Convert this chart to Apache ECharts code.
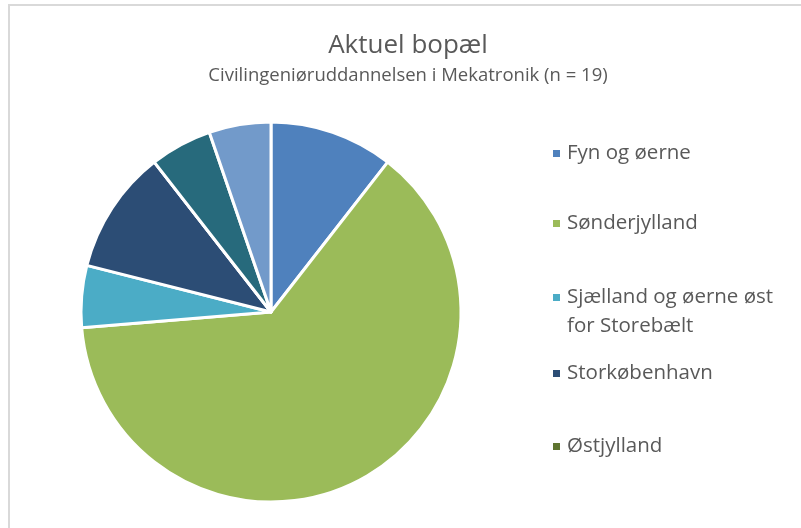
<!DOCTYPE html>
<html>
<head>
<meta charset="utf-8">
<title>Aktuel bopæl</title>
<script src="https://cdn.jsdelivr.net/npm/echarts@6/dist/echarts.min.js"></script>
<style>
    html, body { margin: 0; padding: 0; background: #fff; overflow: hidden; }
    #frame { position: absolute; left: 8px; top: 4px; width: 900px; height: 600px;
             border-left: 2px solid #d9d9d9; border-top: 2px solid #d9d9d9; }
    #chart { position: absolute; left: 0; top: 0; width: 801px; height: 528px; }
</style>
</head>
<body>
<div id="frame"></div>
<div id="chart"></div>
<script type="text/javascript">
// bopæl, antal studerende (n = 19)
var regions = ['Fyn og øerne', 'Sønderjylland', 'Sjælland og øerne øst\nfor Storebælt',
               'Storkøbenhavn', 'Østjylland', 'Vestjylland', 'Nordjylland'];
var counts = [2, 12, 1, 2, 0, 1, 1];
var colors = ['#4f81bd', '#9bbb59', '#4bacc6', '#2c4d75', '#5f7530', '#276a7c', '#729aca'];
var legendShown = regions.slice(0, 5);
var legendTops = [134, 204, 249, 354, 427];

var chart = echarts.init(document.getElementById('chart'));

// one legend per entry, so the spacing can follow the original
var legends = legendShown.map(function (name, i) {
    return {
        orient: 'vertical',
        left: 546,
        top: legendTops[i],
        itemWidth: 9,
        itemHeight: 9,
        itemGap: 0,
        icon: 'rect',
        selectedMode: false,
        // blank first line keeps the marker level with the first text line
        formatter: function (n) { return n.indexOf('\n') >= 0 ? ' \n' + n : n; },
        textStyle: {
            color: '#595959', fontSize: 20.5, fontFamily: 'Open Sans', lineHeight: 29,
            padding: [0, 0, 0, 1]
        },
        data: [name]
    };
});

option = {
    animation: false,
    color: colors,
    title: {
        text: 'Aktuel bopæl',
        subtext: 'Civilingeniøruddannelsen i Mekatronik (n = 19)',
        left: 403,
        top: 28,
        textAlign: 'center',
        itemGap: 7,
        textStyle: { color: '#595959', fontSize: 26, fontWeight: 'normal', fontFamily: 'Open Sans' },
        subtextStyle: { color: '#595959', fontSize: 18.5, fontFamily: 'Open Sans' }
    },
    legend: legends,
    series: [
        {
            type: 'pie',
            center: [271, 312],
            radius: 190,
            startAngle: 90,
            clockwise: true,
            label: { show: false },
            labelLine: { show: false },
            emphasis: { disabled: true },
            itemStyle: { borderColor: '#fff', borderWidth: 3 },
            data: regions.map(function (name, i) {
                return { name: name, value: counts[i] };
            })
        }
    ]
};

chart.setOption(option);
</script>
</body>
</html>
